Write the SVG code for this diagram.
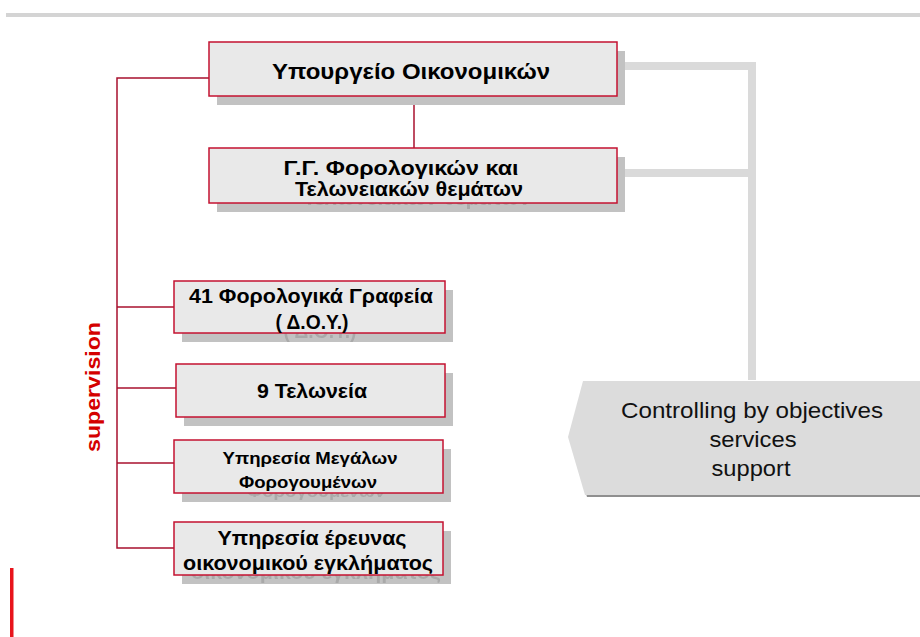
<svg xmlns="http://www.w3.org/2000/svg" xmlns:xlink="http://www.w3.org/1999/xlink" width="920" height="637" viewBox="0 0 920 637">
<defs>
<style>
.box{fill:#e9e9e9;stroke:#c41230;stroke-width:1.5}
.sh{fill:#c2c2c2}
.t{font-family:"Liberation Sans",Arial,sans-serif;font-weight:bold;fill:#000;text-anchor:middle}
.red{stroke:#a8102e;stroke-width:1.5;fill:none}
.gray{stroke:#dadada;stroke-width:8;fill:none}
.ctl{font-family:"Liberation Sans",Arial,sans-serif;font-size:22px;fill:#111;text-anchor:middle}
</style>
<filter id="ghost" x="-10%" y="-50%" width="120%" height="200%">
<feFlood flood-color="#a9a9a9"/>
<feComposite operator="in" in2="SourceAlpha"/>
</filter>
</defs>
<rect x="6" y="13" width="914" height="4" fill="#d4d4d4"/>
<rect x="10" y="568" width="3.5" height="69" fill="#e8141c"/>
<g id="connectors">
<polyline class="gray" points="622,66 752,66 752,380"/>
<line class="gray" x1="622" y1="173" x2="752" y2="173"/>
<line class="red" x1="414" y1="96" x2="414" y2="148"/>
<polyline class="red" points="209,78 117,78 117,548 174,548"/>
<line class="red" x1="117" y1="307" x2="174" y2="307"/>
<line class="red" x1="117" y1="388" x2="176" y2="388"/>
<line class="red" x1="117" y1="463" x2="174" y2="463"/>
</g>
<text x="0" y="0" transform="translate(100,387) rotate(-90)" textLength="130" lengthAdjust="spacingAndGlyphs" style="font-family:'Liberation Sans',Arial,sans-serif;font-weight:bold;font-size:21px;fill:#d40000;text-anchor:middle">supervision</text>
<g id="ministry">
<rect class="sh" x="217" y="51" width="408" height="54"/>
<use xlink:href="#t1" x="8" y="9" filter="url(#ghost)"/>
<rect class="box" x="209" y="42" width="408" height="54"/>
<text id="t1" class="t" x="411" y="79" font-size="22" textLength="278" lengthAdjust="spacingAndGlyphs">Υπουργείο Οικονομικών</text>
</g>
<g id="gg">
<rect class="sh" x="217" y="157" width="408" height="55"/>
<use xlink:href="#t2" x="8" y="9" filter="url(#ghost)"/>
<rect class="box" x="209" y="148" width="408" height="55"/>
<text id="t2" class="t" font-size="20"><tspan x="401" y="175" textLength="235" lengthAdjust="spacingAndGlyphs">Γ.Γ. Φορολογικών και</tspan><tspan x="409" y="196" textLength="228" lengthAdjust="spacingAndGlyphs">Τελωνειακών θεμάτων</tspan></text>
</g>
<g id="doy">
<rect class="sh" x="182" y="290" width="271" height="52"/>
<use xlink:href="#t3" x="8" y="9" filter="url(#ghost)"/>
<rect class="box" x="174" y="281" width="271" height="52"/>
<text id="t3" class="t" font-size="20"><tspan x="311" y="303" textLength="244" lengthAdjust="spacingAndGlyphs">41 Φορολογικά Γραφεία</tspan><tspan x="312" y="329" textLength="73" lengthAdjust="spacingAndGlyphs">( Δ.Ο.Υ.)</tspan></text>
</g>
<g id="customs">
<rect class="sh" x="184" y="373" width="269" height="53"/>
<rect class="box" x="176" y="364" width="269" height="53"/>
<text class="t" x="312" y="398" font-size="20" textLength="110" lengthAdjust="spacingAndGlyphs">9 Τελωνεία</text>
</g>
<g id="large">
<rect class="sh" x="182" y="449" width="269" height="53"/>
<use xlink:href="#t5" x="8" y="9" filter="url(#ghost)"/>
<rect class="box" x="174" y="440" width="269" height="53"/>
<text id="t5" class="t" font-size="17"><tspan x="310" y="464" textLength="175" lengthAdjust="spacingAndGlyphs">Υπηρεσία Μεγάλων</tspan><tspan x="308" y="488" textLength="138" lengthAdjust="spacingAndGlyphs">Φορογουμένων</tspan></text>
</g>
<g id="crime">
<rect class="sh" x="182" y="531" width="269" height="53"/>
<use xlink:href="#t6" x="8" y="9" filter="url(#ghost)"/>
<rect class="box" x="174" y="522" width="269" height="53"/>
<text id="t6" class="t" font-size="20"><tspan x="312" y="545" textLength="189" lengthAdjust="spacingAndGlyphs">Υπηρεσία έρευνας</tspan><tspan x="308" y="570" textLength="250" lengthAdjust="spacingAndGlyphs">οικονομικού εγκλήματος</tspan></text>
</g>
<g id="controlling">
<polygon points="585,383 920,383 920,497 587,497 570,439" fill="#8f8f8f"/>
<polygon points="583,381 920,381 920,495 585,495 568,437" fill="#dcdcdc"/>
<text class="ctl"><tspan x="752" y="418" textLength="262" lengthAdjust="spacingAndGlyphs">Controlling by objectives</tspan><tspan x="753" y="447" textLength="87" lengthAdjust="spacingAndGlyphs">services</tspan><tspan x="751" y="476" textLength="79" lengthAdjust="spacingAndGlyphs">support</tspan></text>
</g>
</svg>
